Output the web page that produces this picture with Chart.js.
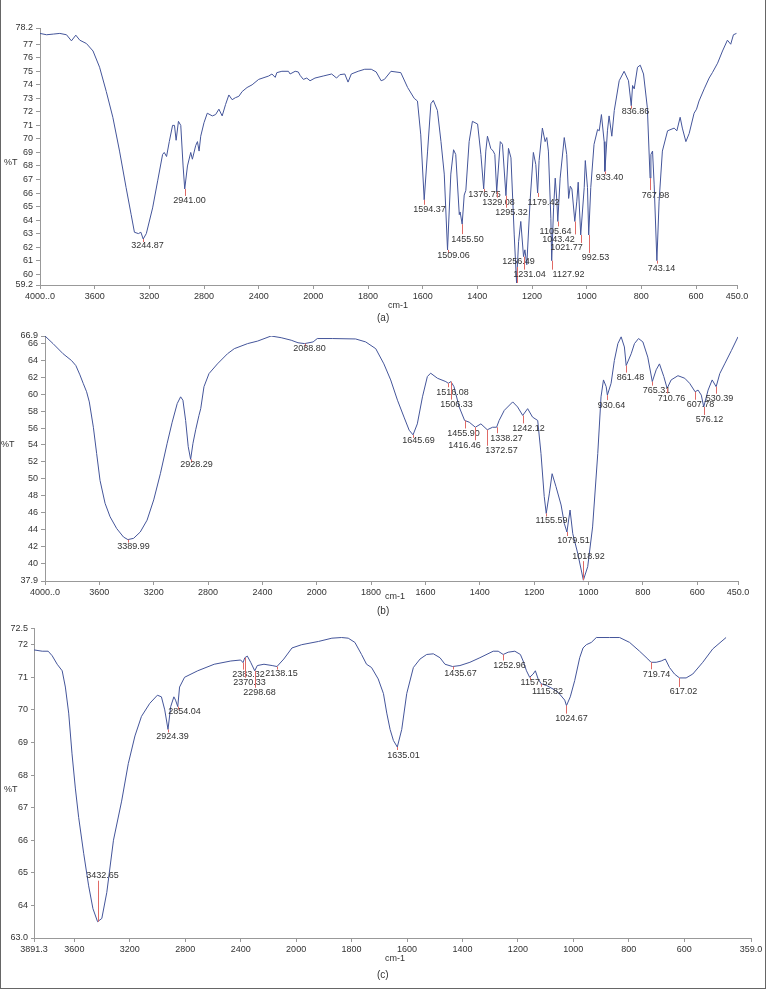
<!DOCTYPE html>
<html>
<head>
<meta charset="utf-8">
<script src="https://cdn.jsdelivr.net/npm/chart.js@4.4.1/dist/chart.umd.min.js"></script>
<style>
    body { margin: 0; background: #fff; }
    #page { position: relative; width: 770px; height: 990px; overflow: hidden; }
    #page canvas { position: absolute; left: 0; }
    .frame { position: absolute; left: 0; top: 0; width: 764px; height: 988px;
             border-left: 1px solid #666; border-right: 1px solid #666; border-bottom: 1px solid #666; }
    .txt { position: absolute; font: 9px "Liberation Sans", Arial, sans-serif; color: #333; line-height: 12px; white-space: nowrap; }
    .cap { font-size: 10px; }
</style>
</head>
<body>
<div id="page">
    <canvas id="chartA" width="770" height="320" style="top:0"></canvas>
    <canvas id="chartB" width="770" height="300" style="top:320px"></canvas>
    <canvas id="chartC" width="770" height="370" style="top:620px"></canvas>

    <div class="txt" style="left:4px;top:156px">%T</div>
    <div class="txt" style="left:388px;top:299px">cm-1</div>
    <div class="txt cap" style="left:377px;top:312px">(a)</div>

    <div class="txt" style="left:1px;top:438px">%T</div>
    <div class="txt" style="left:385px;top:590px">cm-1</div>
    <div class="txt cap" style="left:377px;top:605px">(b)</div>

    <div class="txt" style="left:4px;top:783px">%T</div>
    <div class="txt" style="left:385px;top:952px">cm-1</div>
    <div class="txt cap" style="left:377px;top:969px">(c)</div>

    <div class="frame"></div>
</div>
<script>
// ---- spectrum (a) ----
const wnA = [4000, 3952, 3903, 3855, 3806, 3770, 3738, 3709, 3660, 3612, 3564, 3515, 3467, 3418, 3370, 3333, 3309, 3280, 3262,
    3244.87, 3222, 3176, 3139, 3103, 3091, 3074, 3054, 3030, 3016, 3004, 2987, 2970, 2953, 2941.00, 2921, 2897, 2885, 2861,
    2848, 2836, 2824, 2800, 2776, 2739, 2715, 2691, 2667, 2642, 2618, 2594, 2570, 2545, 2521, 2485, 2448, 2400, 2327, 2303,
    2279, 2267, 2230, 2182, 2170, 2133, 2110, 2097, 2073, 2048, 2024, 1994, 1964, 1933, 1915, 1903, 1885, 1873, 1861, 1836,
    1812, 1788, 1770, 1752, 1740, 1716, 1680, 1655, 1631, 1619, 1607, 1594.37, 1582, 1570, 1561, 1546, 1533, 1521, 1509.06,
    1497, 1487, 1479, 1466, 1463, 1455.50, 1448, 1442, 1430, 1418, 1399, 1387, 1376.75, 1369, 1363, 1351, 1342, 1336,
    1329.08, 1316, 1308, 1295.32, 1286, 1277, 1265, 1256.49, 1249, 1241, 1231.04, 1226, 1219, 1207, 1195, 1186, 1179.42,
    1174, 1162, 1152, 1146, 1140, 1131, 1127.92, 1121, 1115, 1109, 1105.64, 1097, 1082, 1073, 1066, 1060, 1054, 1043.42,
    1036, 1031, 1021.77, 1009, 1005, 997, 992.53, 985, 973, 960, 954, 946, 936, 933.40, 924, 918, 908, 899, 881, 863, 847,
    836.86, 832, 826, 814, 804, 792, 778, 767.98, 765, 759, 753, 743.14, 735, 723, 704, 680, 670, 658, 650, 637, 625, 607,
    598, 589, 570, 552, 540, 521, 503, 485, 473, 463, 452];
const tA = [77.8, 77.7, 77.75, 77.8, 77.7, 77.25, 77.67, 77.3, 77.05, 76.5, 75.3, 73.5, 71.6, 69.1, 66.4, 64.4, 63.1, 63.0, 63.1,
    62.6, 63.0, 64.9, 66.9, 68.85, 69.0, 68.7, 69.8, 71.0, 71.0, 69.9, 71.3, 71.0, 68.0, 66.3, 68.0, 69.0, 68.5, 69.5,
    69.8, 69.1, 70.2, 71.2, 71.9, 71.7, 71.8, 72.2, 71.7, 72.55, 73.25, 72.9, 73.05, 73.15, 73.5, 73.8, 74.0, 74.4, 74.65, 74.8,
    74.55, 74.9, 75.0, 75.0, 74.8, 75.0, 74.95, 74.7, 74.4, 74.5, 74.3, 74.5, 74.65, 74.8, 74.5, 74.75, 74.8, 74.2, 74.8, 75.0,
    75.15, 75.15, 74.95, 74.3, 74.4, 75.0, 74.9, 73.8, 73.0, 72.8, 70.3, 65.5, 69.1, 72.6, 72.85, 72.1, 69.8, 67.4, 61.8,
    67.4, 69.2, 68.85, 64.4, 64.6, 63.7, 65.85, 66.2, 69.8, 71.3, 71.1, 68.85, 66.3, 69.1, 70.2, 69.3, 69.1, 68.85,
    66.1, 69.8, 69.6, 65.8, 69.3, 68.6, 62.9, 59.35, 62.4, 63.9, 61.3, 61.8, 60.7, 65.4, 69.0, 68.1, 66.0,
    68.4, 70.8, 69.8, 70.1, 69.1, 64.1, 61.0, 64.9, 67.1, 65.4, 63.9, 67.1, 70.1, 68.85, 65.6, 66.5, 66.3, 63.9,
    65.4, 66.8, 62.9, 66.4, 68.4, 66.4, 62.9, 66.4, 69.6, 70.7, 70.6, 71.8, 69.8, 67.6, 70.6, 71.7, 70.2, 72.1, 74.3, 75.0, 74.3,
    72.45, 73.95, 73.7, 75.3, 75.45, 74.8, 72.3, 67.1, 68.85, 69.1, 66.6, 61.0, 65.4, 69.1, 70.6, 70.8, 70.6, 71.6, 70.8, 69.8, 70.4, 71.9,
    72.2, 72.8, 73.7, 74.5, 74.9, 75.6, 76.5, 77.3, 77.0, 77.7, 77.8];
const peaksA = [3244.87, 2941.00, 1594.37, 1509.06, 1455.50, 1376.75, 1329.08, 1295.32, 1256.49, 1231.04,
    1179.42, 1127.92, 1105.64, 1043.42, 1021.77, 992.53, 933.40, 836.86, 767.98, 743.14];

// ---- spectrum (b) ----
const wnB = [4000, 3941, 3867, 3805, 3773, 3743, 3719, 3694, 3674, 3644, 3620, 3595, 3558, 3521, 3472, 3422, 3389.99, 3348,
    3299, 3249, 3200, 3151, 3101, 3064, 3027, 3002, 2985, 2965, 2946, 2928.29, 2911, 2891, 2867, 2854, 2830, 2793, 2731,
    2657, 2607, 2509, 2435, 2336, 2262, 2188, 2138, 2088.80, 2027, 1998, 1943, 1857, 1820, 1783, 1753, 1728, 1703, 1679,
    1660, 1645.69, 1630, 1611, 1593, 1581, 1556, 1525, 1516.08, 1506.33, 1495, 1476, 1455.90, 1439, 1416.46, 1396, 1372.57,
    1353, 1338.27, 1329, 1310, 1279, 1261, 1242.12, 1224, 1206, 1187, 1175, 1163, 1155.59, 1144, 1134, 1120, 1101, 1089,
    1079.51, 1068, 1058, 1040, 1018.92, 1003, 985, 966, 954, 945, 935, 930.64, 917, 905, 892, 880, 868, 861.48, 843, 831,
    816, 800, 782, 765.31, 751, 739, 723, 710.76, 696, 671, 646, 628, 607.78, 597, 585, 576.12, 560, 545, 530.39, 517,
    499, 474, 450];
const tB = [66.9, 66.0, 64.8, 64.0, 63.4, 62.3, 61.3, 60.3, 59.1, 56.1, 53.0, 49.8, 47.1, 45.5, 44.1, 43.1, 42.8, 42.95,
    43.7, 45.1, 47.5, 50.6, 54.2, 56.7, 58.9, 59.7, 59.3, 56.9, 53.8, 52.3, 54.2, 55.8, 57.5, 58.3, 60.9, 62.45, 63.6,
    64.8, 65.4, 66.0, 66.3, 66.9, 66.7, 66.4, 66.1, 66.0, 66.2, 66.6, 66.6, 66.55, 66.2, 65.4, 63.6, 61.7, 59.3, 57.3,
    55.75, 55.2, 56.5, 59.7, 62.1, 62.5, 61.9, 61.5, 61.3, 61.5, 60.9, 58.5, 56.9, 56.7, 56.1, 56.5, 55.8,
    56.1, 56.1, 56.9, 58.1, 59.1, 58.5, 57.5, 58.3, 57.3, 56.9, 53.0, 47.9, 45.9, 48.3, 50.6, 49.1, 46.9, 44.7,
    43.7, 46.3, 43.5, 41.2, 38.0, 39.6, 44.3, 53.0, 59.7, 61.7, 60.9, 59.9, 61.3, 64.0, 66.0, 66.8, 65.6, 63.4, 64.8, 66.0,
    66.6, 66.2, 64.4, 61.5, 62.9, 63.6, 62.1, 60.7, 61.7, 62.2, 61.9, 61.3, 60.3, 60.5, 59.9, 58.5, 60.5, 61.7, 60.9, 62.45,
    63.6, 65.2, 66.8];
const peaksB = [3389.99, 2928.29, 2088.80, 1645.69, 1516.08, 1506.33, 1455.90, 1416.46, 1372.57, 1338.27, 1242.12,
    1155.59, 1079.51, 1018.92, 930.64, 861.48, 765.31, 710.76, 607.78, 576.12, 530.39];

// ---- spectrum (c) ----
const wnC = [3891.3, 3832, 3789, 3760, 3724, 3688, 3665, 3641, 3617, 3593, 3569, 3533, 3497, 3466, 3432.65, 3402, 3366,
    3318, 3259, 3211, 3163, 3116, 3056, 3001, 2972, 2948, 2924.39, 2905, 2882, 2870, 2854.04, 2841, 2805, 2710, 2591,
    2471, 2400, 2383.32, 2370.33, 2352, 2328, 2298.68, 2280, 2232, 2173, 2138.15, 2089, 2030, 1980, 1919, 1871, 1836,
    1812, 1788, 1764, 1746, 1728, 1704, 1685, 1673, 1661, 1649, 1635.01, 1619, 1601, 1577, 1553, 1529, 1505, 1481, 1463,
    1435.67, 1409, 1373, 1337, 1289, 1271, 1252.96, 1235, 1211, 1191, 1181, 1169, 1157.52, 1145, 1137, 1127, 1115.82,
    1097, 1073, 1055, 1031, 1024.67, 1011, 995, 977, 965, 953, 935, 917, 869, 833, 797, 761, 731, 719.74, 701, 683, 668,
    653, 635, 617.02, 593, 569, 533, 497, 449];
const tC = [71.84, 71.8, 71.8, 71.66, 71.4, 71.2, 70.7, 69.9, 68.65, 67.6, 66.7, 65.6, 64.6, 63.9, 63.5, 63.6, 64.4,
    66.0, 67.2, 68.35, 69.2, 69.8, 70.2, 70.45, 70.4, 70.0, 69.4, 70.1, 70.4, 70.3, 70.1, 70.7, 71.0, 71.2, 71.4,
    71.5, 71.53, 71.45, 71.6, 71.65, 71.46, 71.2, 71.36, 71.4, 71.36, 71.33, 71.56, 71.9, 72.0, 72.1, 72.2, 72.22,
    72.2, 72.07, 71.7, 71.4, 71.3, 70.95, 70.5, 69.9, 69.4, 69.06, 68.86, 69.4, 70.5, 71.3, 71.56, 71.7, 71.72, 71.6, 71.4,
    71.33, 71.36, 71.46, 71.6, 71.8, 71.8, 71.7, 71.77, 71.8, 71.7, 71.5, 71.2, 71.0, 71.1, 71.2, 70.95, 70.8,
    70.75, 70.64, 70.54, 70.3, 70.13, 70.4, 70.9, 71.6, 71.9, 72.0, 72.07, 72.22, 72.22, 72.22, 72.07, 71.8, 71.56, 71.46, 71.46, 71.5, 71.56,
    71.3, 71.1, 70.98, 70.98, 71.1, 71.46, 71.87, 72.22];
const peaksC = [3432.65, 2924.39, 2854.04, 2383.32, 2370.33, 2298.68, 2138.15, 1635.01, 1435.67, 1252.96, 1157.52,
    1115.82, 1024.67, 719.74, 617.02];

// ---- axis ticks ----
const xTicksAB = [4000, 3600, 3200, 2800, 2400, 2000, 1800, 1600, 1400, 1200, 1000, 800, 600, 450];
const xLabelsAB = ['4000..0', '3600', '3200', '2800', '2400', '2000', '1800', '1600', '1400', '1200', '1000', '800', '600', '450.0'];
const xTicksC = [3891.3, 3600, 3200, 2800, 2400, 2000, 1800, 1600, 1400, 1200, 1000, 800, 600, 359];
const xLabelsC = ['3891.3', '3600', '3200', '2800', '2400', '2000', '1800', '1600', '1400', '1200', '1000', '800', '600', '359.0'];
const yTicksA = [59.2, 60, 61, 62, 63, 64, 65, 66, 67, 68, 69, 70, 71, 72, 73, 74, 75, 76, 77, 78.2];
const yTicksB = [37.9, 40, 42, 44, 46, 48, 50, 52, 54, 56, 58, 60, 62, 64, 66, 66.9];
const yTicksC = [63.0, 64, 65, 66, 67, 68, 69, 70, 71, 72, 72.5];

// label placement for each peak mark: [dx, dy] in pixels from the peak point
const markPosA = [[4, 7], [4, 12], [5, 10], [5, 6], [5, 15], [0, 6], [1, 11], [5, 17], [1, -21], [5, 18],
    [5, 9], [16, 14], [-3, 10], [-17, 18], [-15, 13], [6, 23], [4, 6], [4, 6], [5, 17], [4, 8]];
const markPosB = [[5, 7], [5, 5], [4, 5], [5, 6], [4, 9], [5, 23], [-2, 13], [-11, 18], [14, 21], [9, 11], [5, 13],
    [5, 7], [6, 9], [5, -24], [4, 10], [4, 12], [4, 9], [4, 10], [5, 13], [5, 13], [3, 12]];
const markPosC = [[4, -46], [4, 7], [6, 5], [5, 12], [4, 25], [4, 22], [4, 7], [6, 8], [7, 7], [6, 11], [6, 5],
    [6, 8], [5, 13], [5, 12], [4, 14]];

const FONT = '"Liberation Sans", Arial, sans-serif';

// x axis is compressed 2:1 above 2000 cm-1, like the instrument printout
const fold = wn => wn > 2000 ? 2000 + (wn - 2000) / 2 : wn;
const unfold = u => u > 2000 ? 2000 + (u - 2000) * 2 : u;

class WavenumberScale extends Chart.LinearScale {
    getPixelForValue(value) {
        const lo = fold(this.min), hi = fold(this.max);
        return this.getPixelForDecimal((fold(value) - lo) / (hi - lo));
    }
    getValueForPixel(pixel) {
        const lo = fold(this.min), hi = fold(this.max);
        return unfold(lo + this.getDecimalForPixel(pixel) * (hi - lo));
    }
}
WavenumberScale.id = 'wavenumber';
WavenumberScale.defaults = Chart.LinearScale.defaults;
Chart.register(WavenumberScale);

// value of the curve at a wavenumber (data run high -> low)
const valueAt = (pts, wn) => {
    for (let i = 1; i < pts.length; i++) {
        const a = pts[i - 1], b = pts[i];
        if (wn <= a.x && wn >= b.x) {
            const f = a.x === b.x ? 0 : (a.x - wn) / (a.x - b.x);
            return a.y + (b.y - a.y) * f;
        }
    }
    return pts[pts.length - 1].y;
};

// red peak ticks with their wavenumber labels
const peakMarks = {
    id: 'peakMarks',
    afterDatasetsDraw(chart, args, opts) {
        const { ctx } = chart;
        const xs = chart.scales.x, ys = chart.scales.y;
        const pts = chart.data.datasets[0].data;
        ctx.save();
        ctx.font = '9px ' + FONT;
        ctx.textAlign = 'center';
        ctx.textBaseline = 'middle';
        ctx.lineWidth = 1;
        opts.peaks.forEach((p, i) => {
            const [dx, dy] = opts.pos[i];
            const px = Math.round(xs.getPixelForValue(p)) + 0.5;
            const py = ys.getPixelForValue(valueAt(pts, p));
            const ly = py + dy;
            const end = dy >= 0 ? Math.max(ly - 5, py + 3) : Math.min(ly + 5, py - 3);
            ctx.strokeStyle = '#e06a66';
            ctx.beginPath();
            ctx.moveTo(px, py);
            ctx.lineTo(px, end);
            ctx.stroke();
            ctx.fillStyle = '#333';
            ctx.fillText(p.toFixed(2), px + dx, ly);
        });
        ctx.restore();
    }
};

const createSpectrum = (canvasId, wn, t, peaks, pos, xTicks, xLabels, yTicks, pad, yWidth, tickLen) => {
    const yMin = yTicks[0], yMax = yTicks[yTicks.length - 1];
    return new Chart(document.getElementById(canvasId), {
        type: 'line',
        data: {
            datasets: [{
                data: wn.map((x, i) => ({ x, y: t[i] })),
                borderColor: '#44559a',
                borderWidth: 1,
                pointRadius: 0,
                tension: 0,
                fill: false
            }]
        },
        options: {
            responsive: false,
            animation: false,
            events: [],
            layout: { padding: pad },
            plugins: {
                legend: { display: false },
                tooltip: { enabled: false },
                peakMarks: { peaks, pos }
            },
            scales: {
                x: {
                    type: 'wavenumber',
                    reverse: true,
                    min: xTicks[xTicks.length - 1],
                    max: xTicks[0],
                    afterBuildTicks: s => { s.ticks = xTicks.map(v => ({ value: v })); },
                    afterFit: s => { s.height = 20; },
                    ticks: {
                        autoSkip: false,
                        maxRotation: 0,
                        padding: 2,
                        color: '#333',
                        font: { family: FONT, size: 9 },
                        callback: (v, i) => xLabels[i]
                    },
                    grid: { drawOnChartArea: false, drawTicks: true, tickLength: 4, color: '#999' },
                    border: { color: '#999' }
                },
                y: {
                    type: 'linear',
                    min: yMin,
                    max: yMax,
                    afterBuildTicks: s => { s.ticks = yTicks.map(v => ({ value: v })); },
                    afterFit: s => { s.width = yWidth; },
                    ticks: {
                        autoSkip: false,
                        padding: 3,
                        color: '#333',
                        font: { family: FONT, size: 9 },
                        callback: v => (v === yMin || v === yMax) ? v.toFixed(1) : String(v)
                    },
                    grid: { drawOnChartArea: false, drawTicks: true, tickLength: tickLen, color: '#999' },
                    border: { color: '#999' }
                }
            }
        },
        plugins: [peakMarks]
    });
};

createSpectrum('chartA', wnA, tA, peaksA, markPosA, xTicksAB, xLabelsAB, yTicksA,
    { left: 6, right: 33, top: 28, bottom: 15 }, 34, 4);
createSpectrum('chartB', wnB, tB, peaksB, markPosB, xTicksAB, xLabelsAB, yTicksB,
    { left: 11, right: 32, top: 16, bottom: 19 }, 34, 4);
createSpectrum('chartC', wnC, tC, peaksC, markPosC, xTicksC, xLabelsC, yTicksC,
    { left: 0, right: 19, top: 8, bottom: 32 }, 34, 3);
</script>
</body>
</html>
